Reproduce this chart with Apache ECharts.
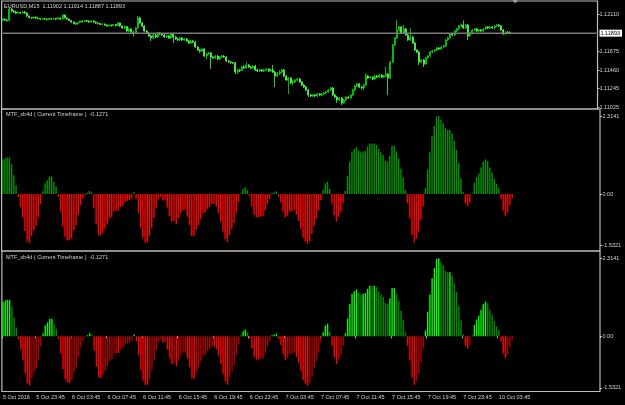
<!DOCTYPE html>
<html>
<head>
<meta charset="utf-8">
<script src="https://cdn.jsdelivr.net/npm/echarts@6/dist/echarts.min.js"></script>
<style>
html,body{margin:0;padding:0;background:#000}
#main{width:625px;height:405px}
</style>
</head>
<body>
<div id="main"></div>
<script>
// time axis labels (M15 bars, one label every 16 bars)
const timeLabels = ['5 Oct 2016','5 Oct 23:45','6 Oct 03:45','6 Oct 07:45','6 Oct 11:45','6 Oct 15:45','6 Oct 19:45',
  '6 Oct 23:45','7 Oct 03:45','7 Oct 07:45','7 Oct 11:45','7 Oct 15:45','7 Oct 19:45','7 Oct 23:45','10 Oct 03:45'];
const timeLabelIdx = [0,15,31,47,63,79,95,111,127,143,159,175,191,207,223];
const slotCount = 269; // bars + empty right margin

const priceTicks = [1.12110, 1.11675, 1.11460, 1.11245, 1.11025];
const oscTicks = [2.3141, 0, -1.5321];

// EURUSD M15 candles: [open, close, low, high]
const candles = [
  [1.12048,1.12059,1.12030,1.12071],[1.12059,1.12048,1.12036,1.12065],[1.12048,1.12042,1.12024,1.12059],[1.12042,1.12177,1.12036,1.12201],
  [1.12177,1.12154,1.12142,1.12189],[1.12154,1.12142,1.12130,1.12165],[1.12142,1.12130,1.12118,1.12154],[1.12130,1.12136,1.12118,1.12148],
  [1.12136,1.12130,1.12118,1.12142],[1.12130,1.12142,1.12124,1.12154],[1.12142,1.12130,1.12118,1.12154],[1.12130,1.12095,1.12083,1.12136],
  [1.12095,1.12077,1.12065,1.12101],[1.12077,1.12071,1.12059,1.12083],[1.12071,1.12083,1.12065,1.12089],[1.12083,1.12071,1.12059,1.12089],
  [1.12071,1.12065,1.12054,1.12077],[1.12065,1.12059,1.12048,1.12071],[1.12059,1.12065,1.12054,1.12077],[1.12065,1.12059,1.12048,1.12071],
  [1.12059,1.12054,1.12042,1.12065],[1.12054,1.12065,1.12048,1.12071],[1.12065,1.12059,1.12048,1.12071],[1.12059,1.12065,1.12054,1.12077],
  [1.12065,1.12059,1.12048,1.12071],[1.12059,1.12071,1.12054,1.12083],[1.12071,1.12059,1.12048,1.12077],[1.12059,1.12107,1.12054,1.12118],
  [1.12107,1.12071,1.12065,1.12112],[1.12071,1.12059,1.12048,1.12077],[1.12059,1.12042,1.12036,1.12065],[1.12042,1.12024,1.12013,1.12048],
  [1.12024,1.12007,1.12001,1.12030],[1.12007,1.12001,1.11989,1.12018],[1.12001,1.12018,1.11995,1.12024],[1.12018,1.12036,1.12013,1.12042],
  [1.12036,1.12030,1.12018,1.12042],[1.12030,1.12042,1.12024,1.12048],[1.12042,1.12036,1.12024,1.12048],[1.12036,1.12024,1.12013,1.12042],
  [1.12024,1.12036,1.12018,1.12042],[1.12036,1.12024,1.12013,1.12042],[1.12024,1.12013,1.12001,1.12030],[1.12013,1.12007,1.11995,1.12018],
  [1.12007,1.11995,1.11989,1.12013],[1.11995,1.12001,1.11989,1.12013],[1.12001,1.11989,1.11977,1.12007],[1.11989,1.11977,1.11966,1.11995],
  [1.11977,1.11989,1.11971,1.11995],[1.11989,1.11983,1.11971,1.11995],[1.11983,1.11995,1.11977,1.12001],[1.11995,1.11983,1.11971,1.12001],
  [1.11983,1.12013,1.11977,1.12024],[1.12013,1.11977,1.11966,1.12018],[1.11977,1.11954,1.11942,1.11983],[1.11954,1.11971,1.11942,1.11983],
  [1.11971,1.11918,1.11907,1.11977],[1.11918,1.11942,1.11907,1.11954],[1.11942,1.11907,1.11883,1.11948],[1.11907,1.11895,1.11854,1.11918],
  [1.11895,1.11954,1.11883,1.11966],[1.11954,1.12071,1.11942,1.12095],[1.12071,1.12013,1.12001,1.12089],[1.12013,1.11977,1.11966,1.12024],
  [1.11977,1.11918,1.11907,1.11989],[1.11918,1.11895,1.11883,1.11930],[1.11895,1.11860,1.11848,1.11907],[1.11860,1.11836,1.11801,1.11871],
  [1.11836,1.11871,1.11824,1.11883],[1.11871,1.11848,1.11836,1.11883],[1.11848,1.11895,1.11836,1.11907],[1.11895,1.11883,1.11871,1.11907],
  [1.11883,1.11871,1.11860,1.11895],[1.11871,1.11848,1.11836,1.11883],[1.11848,1.11860,1.11836,1.11871],[1.11860,1.11836,1.11824,1.11871],
  [1.11836,1.11883,1.11824,1.11895],[1.11883,1.11848,1.11777,1.11895],[1.11848,1.11824,1.11813,1.11860],[1.11824,1.11813,1.11801,1.11836],
  [1.11813,1.11836,1.11801,1.11848],[1.11836,1.11813,1.11801,1.11848],[1.11813,1.11824,1.11801,1.11836],[1.11824,1.11801,1.11789,1.11836],
  [1.11801,1.11777,1.11766,1.11813],[1.11777,1.11801,1.11766,1.11813],[1.11801,1.11789,1.11777,1.11813],[1.11789,1.11730,1.11719,1.11801],
  [1.11730,1.11695,1.11683,1.11742],[1.11695,1.11683,1.11660,1.11707],[1.11683,1.11707,1.11672,1.11719],[1.11707,1.11624,1.11613,1.11719],
  [1.11624,1.11648,1.11589,1.11660],[1.11648,1.11660,1.11636,1.11672],[1.11660,1.11613,1.11472,1.11672],[1.11613,1.11601,1.11589,1.11624],
  [1.11601,1.11624,1.11589,1.11636],[1.11624,1.11589,1.11577,1.11636],[1.11589,1.11613,1.11577,1.11624],[1.11613,1.11624,1.11601,1.11636],
  [1.11624,1.11613,1.11601,1.11636],[1.11613,1.11566,1.11554,1.11624],[1.11566,1.11554,1.11542,1.11577],[1.11554,1.11548,1.11530,1.11566],
  [1.11548,1.11542,1.11530,1.11554],[1.11542,1.11436,1.11413,1.11554],[1.11436,1.11460,1.11413,1.11472],[1.11460,1.11454,1.11436,1.11472],
  [1.11454,1.11495,1.11448,1.11507],[1.11495,1.11483,1.11472,1.11519],[1.11483,1.11519,1.11472,1.11554],[1.11519,1.11495,1.11483,1.11530],
  [1.11495,1.11483,1.11472,1.11507],[1.11483,1.11507,1.11472,1.11519],[1.11507,1.11460,1.11448,1.11519],[1.11460,1.11448,1.11436,1.11472],
  [1.11448,1.11460,1.11436,1.11472],[1.11460,1.11448,1.11436,1.11472],[1.11448,1.11460,1.11436,1.11472],[1.11460,1.11472,1.11448,1.11483],
  [1.11472,1.11448,1.11436,1.11483],[1.11448,1.11460,1.11436,1.11472],[1.11460,1.11436,1.11424,1.11519],[1.11436,1.11389,1.11260,1.11448],
  [1.11389,1.11413,1.11377,1.11436],[1.11413,1.11436,1.11401,1.11460],[1.11436,1.11460,1.11424,1.11472],[1.11460,1.11389,1.11377,1.11472],
  [1.11389,1.11342,1.11330,1.11401],[1.11342,1.11366,1.11178,1.11377],[1.11366,1.11307,1.11295,1.11377],[1.11307,1.11319,1.11283,1.11342],
  [1.11319,1.11342,1.11307,1.11354],[1.11342,1.11354,1.11330,1.11366],[1.11354,1.11319,1.11307,1.11366],[1.11319,1.11283,1.11272,1.11330],
  [1.11283,1.11260,1.11248,1.11295],[1.11260,1.11225,1.11213,1.11272],[1.11225,1.11166,1.11142,1.11236],[1.11166,1.11154,1.11142,1.11178],
  [1.11154,1.11166,1.11142,1.11178],[1.11166,1.11154,1.11142,1.11178],[1.11154,1.11178,1.11142,1.11190],[1.11178,1.11166,1.11154,1.11190],
  [1.11166,1.11178,1.11154,1.11190],[1.11178,1.11190,1.11166,1.11201],[1.11190,1.11201,1.11178,1.11213],[1.11201,1.11225,1.11190,1.11236],
  [1.11225,1.11248,1.11213,1.11260],[1.11248,1.11166,1.11154,1.11260],[1.11166,1.11142,1.11131,1.11178],[1.11142,1.11107,1.11072,1.11154],
  [1.11107,1.11131,1.11095,1.11142],[1.11131,1.11072,1.11048,1.11142],[1.11072,1.11107,1.11060,1.11119],[1.11107,1.11142,1.11095,1.11154],
  [1.11142,1.11131,1.11119,1.11154],[1.11131,1.11166,1.11119,1.11178],[1.11166,1.11225,1.11154,1.11236],[1.11225,1.11272,1.11213,1.11283],
  [1.11272,1.11295,1.11260,1.11307],[1.11295,1.11260,1.11248,1.11307],[1.11260,1.11248,1.11236,1.11272],[1.11248,1.11283,1.11225,1.11295],
  [1.11283,1.11389,1.11272,1.11424],[1.11389,1.11366,1.11354,1.11401],[1.11366,1.11377,1.11354,1.11389],[1.11377,1.11354,1.11342,1.11389],
  [1.11354,1.11389,1.11342,1.11401],[1.11389,1.11377,1.11366,1.11401],[1.11377,1.11401,1.11366,1.11413],[1.11401,1.11377,1.11366,1.11413],
  [1.11377,1.11389,1.11366,1.11401],[1.11389,1.11413,1.11377,1.11495],[1.11413,1.11366,1.11166,1.11424],[1.11366,1.11554,1.11354,1.11566],
  [1.11554,1.11754,1.11542,1.11766],[1.11754,1.11836,1.11742,1.11848],[1.11836,1.11930,1.11824,1.12048],[1.11930,1.11966,1.11918,1.11977],
  [1.11966,1.11895,1.11883,1.11977],[1.11895,1.11942,1.11883,1.11989],[1.11942,1.11871,1.11860,1.11954],[1.11871,1.11813,1.11801,1.11883],
  [1.11813,1.11848,1.11801,1.11954],[1.11848,1.11777,1.11766,1.11860],[1.11777,1.11695,1.11683,1.11789],[1.11695,1.11672,1.11660,1.11707],
  [1.11672,1.11554,1.11519,1.11683],[1.11554,1.11577,1.11542,1.11589],[1.11577,1.11530,1.11495,1.11589],[1.11530,1.11601,1.11519,1.11613],
  [1.11601,1.11624,1.11589,1.11636],[1.11624,1.11672,1.11613,1.11683],[1.11672,1.11683,1.11660,1.11695],[1.11683,1.11695,1.11672,1.11707],
  [1.11695,1.11719,1.11683,1.11730],[1.11719,1.11707,1.11695,1.11730],[1.11707,1.11730,1.11695,1.11742],[1.11730,1.11742,1.11719,1.11754],
  [1.11742,1.11813,1.11730,1.11824],[1.11813,1.11836,1.11801,1.11848],[1.11836,1.11883,1.11824,1.11895],[1.11883,1.11871,1.11860,1.11895],
  [1.11871,1.11918,1.11860,1.11930],[1.11918,1.11942,1.11907,1.11954],[1.11942,1.11977,1.11930,1.11989],[1.11977,1.11989,1.11966,1.12001],
  [1.11989,1.11954,1.11942,1.12042],[1.11954,1.11989,1.11942,1.12001],[1.11989,1.11860,1.11813,1.12001],[1.11860,1.11895,1.11848,1.11907],
  [1.11895,1.11930,1.11883,1.11942],[1.11930,1.11942,1.11918,1.11954],[1.11942,1.11918,1.11907,1.11954],[1.11918,1.11930,1.11907,1.11942],
  [1.11930,1.11918,1.11907,1.11942],[1.11918,1.11942,1.11907,1.11954],[1.11942,1.11966,1.11930,1.11977],[1.11966,1.11954,1.11942,1.11977],
  [1.11954,1.11966,1.11942,1.11977],[1.11966,1.11954,1.11942,1.11977],[1.11954,1.11977,1.11942,1.11989],[1.11977,1.11989,1.11966,1.12001],
  [1.11989,1.11977,1.11966,1.12001],[1.11977,1.11930,1.11918,1.11989],[1.11930,1.11883,1.11871,1.11942],[1.11883,1.11907,1.11871,1.11918],
  [1.11907,1.11901,1.11883,1.11918],[1.11902,1.11893,1.11887,1.11914]
];

// MTF_xb4d oscillator, one value per bar
const osc = [
  1.02,1.06,1.08,1.08,0.88,0.56,0.26,
  -0.09,-0.39,-0.70,-1.10,-1.40,-1.45,-1.25,-1.08,-0.95,-0.70,-0.30,
  0.08,0.32,0.41,0.52,0.52,0.36,0.22,
  -0.08,-0.52,-0.97,-1.27,-1.37,-1.38,-1.32,-1.07,-0.92,-0.62,-0.33,-0.13,-0.03,
  0.03,0.09,0.05,
  -0.42,-0.90,-1.23,-1.23,-1.15,-1.03,-0.88,-0.73,-0.68,-0.51,-0.50,-0.50,-0.39,-0.34,-0.24,-0.21,-0.18,-0.14,
  0.05,
  -0.14,-0.56,-1.00,-1.31,-1.44,-1.44,-1.26,-1.00,-0.71,-0.41,-0.16,-0.09,-0.19,-0.17,-0.40,
  -0.65,-0.82,-0.79,-0.89,-0.72,-0.57,-0.48,-0.46,-0.67,-0.92,-1.25,-1.25,-1.07,-0.92,-0.74,-0.57,
  -0.55,-0.44,-0.38,-0.30,-0.30,-0.38,-0.57,-0.82,-1.11,-1.34,-1.43,-1.22,-1.04,-0.87,-0.55,-0.24,
  0.02,0.15,0.20,0.12,
  -0.06,-0.36,-0.62,-0.69,-0.69,-0.67,-0.65,-0.50,-0.30,-0.15,
  0.03,0.05,0.08,
  -0.08,-0.25,-0.52,-0.70,-0.65,-0.53,-0.51,-0.48,-0.62,-0.80,-1.04,-1.30,-1.40,-1.47,-1.40,-1.19,-0.94,-0.73,-0.48,-0.18,
  0.12,0.32,0.37,0.15,
  -0.28,-0.63,-0.82,-0.69,-0.55,-0.28,
  0.09,0.53,0.96,1.26,1.34,1.39,1.29,1.24,1.26,1.28,1.41,1.50,1.49,1.50,1.46,1.34,1.24,1.16,0.99,0.96,
  1.13,1.43,1.43,1.26,1.06,0.76,0.49,0.12,
  -0.28,-0.72,-1.22,-1.44,-1.32,-1.12,-0.77,-0.36,
  0.17,0.73,1.24,1.72,2.02,2.30,2.3141,2.20,2.10,1.95,1.90,1.90,1.80,1.57,1.31,0.91,0.47,0.05,
  -0.28,-0.36,-0.26,
  0.02,0.34,0.50,0.61,0.79,0.96,1.03,0.98,0.79,0.64,0.45,0.30,0.19,
  -0.15,-0.50,-0.65,-0.55,-0.33,-0.1271
];

const FONT = 'Liberation Sans, Arial, sans-serif';
const TXT = '#d4d4d4';
const FRAME = '#bdbdbd';

let cats = [];
for (let i = 0; i < slotCount; i++) cats.push('');
timeLabelIdx.forEach((idx, k) => { cats[idx] = timeLabels[k]; });

const last = candles[candles.length - 1];
const lastPrice = last[1];
const priceLabelValues = priceTicks.concat([lastPrice]);

function isLast(v) {
  return Math.abs(v - lastPrice) < 1e-7;
}
function panel2Color(v) {
  return v >= 0 ? '#009600' : '#ff0000';
}
function panel3Color(i) {
  let v = osc[i], prev = i > 0 ? osc[i - 1] : 0;
  if (v >= 0) return v >= prev ? '#00ff00' : '#008c00';
  return v <= prev ? '#ff0000' : '#b00000';
}

let chart = echarts.init(document.getElementById('main'), null, { renderer: 'canvas' });

const grids = [
  { left: 1.6, right: 25, top: 1, height: 108 },
  { left: 1.6, right: 25, top: 109, height: 142 },
  { left: 1.6, right: 25, top: 251, height: 140.5 }
].map(g => Object.assign(g, { show: true, borderColor: FRAME, borderWidth: 1.2, backgroundColor: 'transparent' }));

function hiddenX(idx) {
  return { type: 'category', gridIndex: idx, data: cats, boundaryGap: true, show: false };
}

chart.setOption({
  animation: false,
  backgroundColor: '#000',
  title: [
    {
      text: 'EURUSD,M15  ' + [last[0], last[3], last[2], last[1]].map(v => v.toFixed(5)).join(' '),
      left: 4, top: 3, padding: 0,
      textStyle: { color: TXT, fontSize: 5.5, fontWeight: 'normal', fontFamily: FONT }
    },
    {
      text: 'MTF_xb4d ( Current Timeframe )  ' + osc[osc.length - 1].toFixed(4),
      left: 6, top: 111.5, padding: 0,
      textStyle: { color: TXT, fontSize: 5.5, fontWeight: 'normal', fontFamily: FONT }
    },
    {
      text: 'MTF_xb4d ( Current Timeframe )  ' + osc[osc.length - 1].toFixed(4),
      left: 6, top: 254.5, padding: 0,
      textStyle: { color: TXT, fontSize: 5.5, fontWeight: 'normal', fontFamily: FONT }
    }
  ],
  grid: grids,
  xAxis: [
    hiddenX(0),
    hiddenX(1),
    {
      type: 'category', gridIndex: 2, data: cats, boundaryGap: true,
      axisLine: { show: false },
      axisTick: { show: true, length: 2, interval: (i, v) => v !== '', lineStyle: { color: FRAME } },
      axisLabel: {
        interval: 0, align: 'left', margin: 3, color: TXT, fontSize: 5.5, fontFamily: FONT
      }
    }
  ],
  yAxis: [
    {
      type: 'value', gridIndex: 0, position: 'right', min: 1.110014, max: 1.122711,
      splitLine: { show: false }, axisLine: { show: false },
      axisTick: { show: true, length: 2, customValues: priceTicks, lineStyle: { color: FRAME } },
      axisLabel: {
        customValues: priceLabelValues,
        formatter: v => (isLast(v) ? '{hl|' + v.toFixed(5) + '}' : v.toFixed(5)),
        color: TXT, fontSize: 5.5, fontFamily: FONT, margin: 2,
        rich: {
          hl: { backgroundColor: '#ffffff', color: '#000000', fontSize: 5.5, fontFamily: FONT, padding: [1, 2, 0, 1] }
        }
      }
    },
    {
      type: 'value', gridIndex: 1, position: 'right', min: -1.691, max: 2.522,
      splitLine: { show: false }, axisLine: { show: false },
      axisTick: { show: true, length: 2, customValues: oscTicks, lineStyle: { color: FRAME } },
      axisLabel: {
        customValues: oscTicks, formatter: v => (v === 0 ? '0.00' : v.toFixed(4)),
        color: TXT, fontSize: 5.5, fontFamily: FONT, margin: 2.5
      }
    },
    {
      type: 'value', gridIndex: 2, position: 'right', min: -1.638, max: 2.531,
      splitLine: { show: false }, axisLine: { show: false },
      axisTick: { show: true, length: 2, customValues: oscTicks, lineStyle: { color: FRAME } },
      axisLabel: {
        customValues: oscTicks, formatter: v => (v === 0 ? '0.00' : v.toFixed(4)),
        color: TXT, fontSize: 5.5, fontFamily: FONT, margin: 2.5
      }
    }
  ],
  series: [
    {
      // bid line across the price panel
      type: 'line',
      xAxisIndex: 0, yAxisIndex: 0,
      data: [[0, lastPrice], [slotCount - 1, lastPrice]],
      symbol: 'none', silent: true,
      lineStyle: { color: '#7a7a7a', width: 1.5 }
    },
    {
      type: 'candlestick',
      xAxisIndex: 0, yAxisIndex: 0,
      data: candles,
      barWidth: 1.5,
      itemStyle: {
        color: '#006400', color0: '#e8ffe8',
        borderColor: '#00e000', borderColor0: '#40ff40', borderWidth: 0.8
      }
    },
    {
      type: 'bar',
      xAxisIndex: 1, yAxisIndex: 1,
      barWidth: 1.4,
      data: osc.map(v => ({ value: v, itemStyle: { color: panel2Color(v) } }))
    },
    {
      type: 'bar',
      xAxisIndex: 2, yAxisIndex: 2,
      barWidth: 1.4,
      data: osc.map((v, i) => ({ value: v, itemStyle: { color: panel3Color(i) } }))
    }
  ],
  graphic: [
    {
      type: 'polygon', silent: true,
      shape: { points: [[512.5, 0], [518, 0], [515.2, 3.5]] },
      style: { fill: '#9a9a9a' }
    }
  ]
});
</script>
</body>
</html>
